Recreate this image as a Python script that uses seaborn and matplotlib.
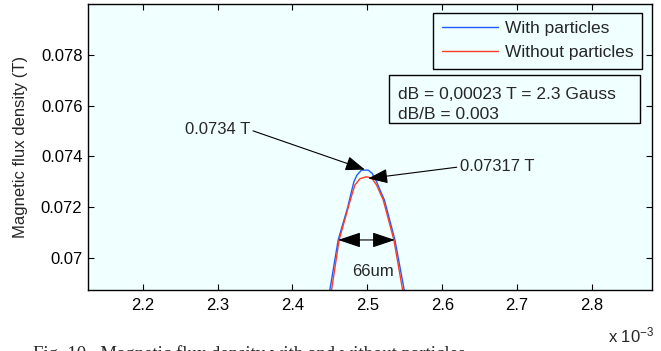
import matplotlib
matplotlib.use('Agg')
import matplotlib.pyplot as plt
from matplotlib.patches import Rectangle, ArrowStyle
from matplotlib.lines import Line2D
import seaborn as sns
import pandas as pd

# position (x 10^-3) and flux density (T)
x_with = [2.4474, 2.4499, 2.4610, 2.4739, 2.4786, 2.4820, 2.4860, 2.4922, 2.5011,
          2.5064, 2.5123, 2.5180, 2.5227, 2.5368, 2.5492, 2.5520]
b_with = [0.06830, 0.06874, 0.07071, 0.07201, 0.07260, 0.07300, 0.07326, 0.07346, 0.07346,
          0.07333, 0.07300, 0.07260, 0.07229, 0.07071, 0.06874, 0.06830]
x_without = [2.4499, 2.4522, 2.4623, 2.4773, 2.4833, 2.4900, 2.4989, 2.5060,
             2.5123, 2.5211, 2.5354, 2.5470, 2.5496]
b_without = [0.06830, 0.06874, 0.07071, 0.07229, 0.07287, 0.07312, 0.07320, 0.07314,
             0.07287, 0.07229, 0.07071, 0.06874, 0.06830]

series_names = ['With particles', 'Without particles']
series_colors = ['#1f5cff', '#ff3b24']

x_ticks = [2.2, 2.3, 2.4, 2.5, 2.6, 2.7, 2.8]
x_tick_labels = ['2.2', '2.3', '2.4', '2.5', '2.6', '2.7', '2.8']
y_ticks = [0.07, 0.072, 0.074, 0.076, 0.078]
y_tick_labels = ['0.07', '0.072', '0.074', '0.076', '0.078']

sns.set_style('ticks')
plt.rcParams['font.family'] = ['Liberation Sans', 'DejaVu Sans']
plt.rcParams['mathtext.fontset'] = 'custom'
plt.rcParams['mathtext.rm'] = 'Liberation Sans'
plt.rcParams['mathtext.it'] = 'Liberation Sans'

fig = plt.figure(figsize=(6.61, 3.51), dpi=100)
ax = fig.add_axes([0.1331, 0.1738, 0.8533, 0.8148])
ax.set_facecolor('#f0ffff')

df = pd.concat([
    pd.DataFrame({'x': x_with, 'B': b_with, 'series': series_names[0]}),
    pd.DataFrame({'x': x_without, 'B': b_without, 'series': series_names[1]}),
])
pal = dict(zip(series_names, series_colors))
sns.lineplot(data=df, x='x', y='B', hue='series', palette=pal, estimator=None,
             sort=False, lw=1.0, ax=ax, legend=False)

ax.set_xlim(2.127, 2.88)
ax.set_ylim(0.06874, 0.0800)
ax.set_xticks(x_ticks)
ax.set_xticklabels(x_tick_labels)
ax.set_yticks(y_ticks)
ax.set_yticklabels(y_tick_labels)
ax.tick_params(direction='in', length=4, width=0.8, top=True, right=True,
               labelsize=12, colors='k')
ax.tick_params(axis='x', pad=6)
ax.tick_params(axis='y', pad=4)
for s in ax.spines.values():
    s.set_visible(True)
    s.set_linewidth(1.0)
    s.set_color('k')

ax.set_xlabel('')
ax.set_ylabel('Magnetic flux density (T)', fontsize=12)
ax.yaxis.set_label_coords(-0.106, 0.5)

# legend
handles = [Line2D([], [], color=c, lw=1.0) for c in series_colors]
leg = ax.legend(handles, series_names, loc='upper right', bbox_to_anchor=(0.982, 0.97),
                borderaxespad=0, fontsize=12.5, frameon=True, fancybox=False,
                handlelength=3.2, handletextpad=0.4, labelspacing=0.5,
                borderpad=0.5, edgecolor='k', framealpha=1, facecolor='#f0ffff')
leg.get_frame().set_linewidth(1.0)

# text box
ax.add_patch(Rectangle((0.534, 0.583), 0.445, 0.168, transform=ax.transAxes,
                       fill=False, edgecolor='k', lw=1.0))
ax.text(0.5496, 0.684, 'dB = 0,00023 T = 2.3 Gauss', transform=ax.transAxes,
        fontsize=12.5, ha='left', va='center')
ax.text(0.5496, 0.614, 'dB/B = 0.003', transform=ax.transAxes,
        fontsize=12.5, ha='left', va='center')

head = ArrowStyle('-|>', head_length=1.2, head_width=0.45)
ax.annotate('0.0734 T', xy=(2.4967, 0.07348), xytext=(2.343, 0.07505),
            ha='right', va='center', fontsize=12,
            arrowprops=dict(arrowstyle=head, color='k', lw=0.8, mutation_scale=10,
                            shrinkA=0, shrinkB=0, relpos=(1, 0.5)))
ax.annotate('0.07317 T', xy=(2.5011, 0.07313), xytext=(2.6237, 0.07359),
            ha='left', va='center', fontsize=12,
            arrowprops=dict(arrowstyle=head, color='k', lw=0.8, mutation_scale=10,
                            shrinkA=0, shrinkB=0, relpos=(0, 0.5)))
ax.annotate('', xy=(2.5367, 0.07071), xytext=(2.461, 0.07071),
            arrowprops=dict(arrowstyle=ArrowStyle('<|-|>', head_length=1.4, head_width=0.47),
                            color='k', lw=0.8, mutation_scale=10, shrinkA=0, shrinkB=0))
ax.text(2.5071, 0.06946, '66um', fontsize=12, ha='center', va='center')

ax.text(0.922, -0.182, r'x 10$^{-3}$', transform=ax.transAxes, fontsize=12,
        ha='left', va='baseline')

fig.text(0.05, -0.0217, 'Fig. 10.  Magnetic flux density with and without particles',
         fontsize=13.5, family=['Liberation Serif', 'DejaVu Serif'], ha='left', va='baseline')

fig.savefig('out.png', dpi=100)
